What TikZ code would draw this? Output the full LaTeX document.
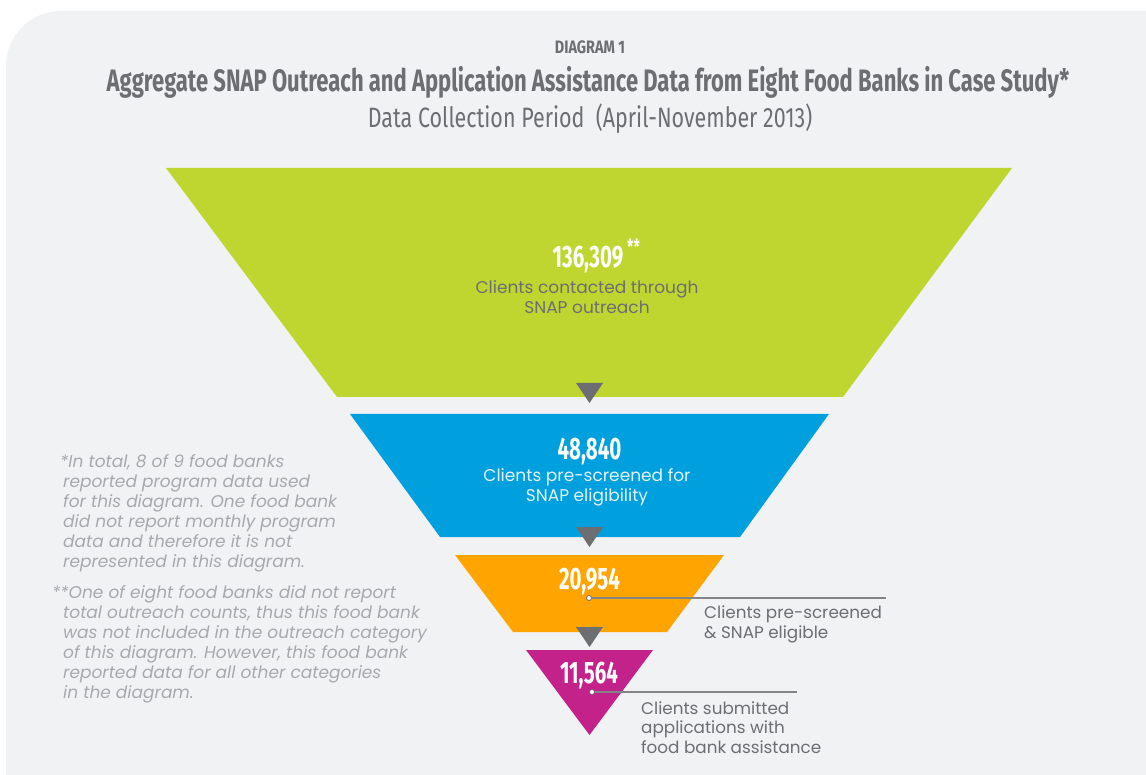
\documentclass[tikz,border=0pt]{standalone}
\usepackage{fontspec}
\setmainfont{Poppins}
\newfontfamily\condfont[FakeStretch=0.66]{Fira Sans}
\newfontfamily\titlefont[FakeStretch=0.71]{Fira Sans}
\newfontfamily\diagfont[FakeStretch=0.8]{Fira Sans}
\newfontfamily\subfont[FakeStretch=0.767]{Fira Sans}
\definecolor{bgc}{HTML}{F1F2F4}
\definecolor{txtgray}{HTML}{6D6E71}
\definecolor{notegray}{HTML}{A7A9AC}
\definecolor{fgreen}{HTML}{BED62F}
\definecolor{fblue}{HTML}{00A0DF}
\definecolor{forange}{HTML}{FFA400}
\definecolor{fmag}{HTML}{C2228A}
\definecolor{bluetxt}{HTML}{E3F3FB}
\tikzset{
  num/.style={anchor=base, text=white, font=\condfont\bfseries\fontsize{31}{31}\selectfont, inner sep=0pt},
  lbl/.style={anchor=base, text=txtgray, font=\fontsize{17}{20}\selectfont, inner sep=0pt, align=center},
  sidelbl/.style={anchor=base west, text=txtgray, font=\fontsize{16.8}{19.5}\selectfont, inner sep=0pt, align=left},
  note/.style={anchor=base west, text=notegray, font=\itshape\fontsize{17}{20}\selectfont, inner sep=0pt, align=left},
  arrowtri/.style={fill=txtgray},
  leader/.style={draw=txtgray!85, line width=1.3pt},
  dot/.style={circle, draw=txtgray, fill=white, line width=0.8pt, inner sep=0pt, minimum size=5pt}
}
\begin{document}
\begin{tikzpicture}[x=1pt,y=-1pt]
\useasboundingbox (0,0) rectangle (1146,775);
\fill[white] (0,0) rectangle (1146,775);
\fill[bgc] (6,775) [rounded corners=55pt] -- (6,11) [sharp corners] -- (1146,11) -- (1146,775) -- cycle;
% titles
\node[anchor=base, text=txtgray, font=\diagfont\bfseries\fontsize{18}{18}\selectfont, inner sep=0pt] (diag) at (590,54) {DIAGRAM 1};
\node[anchor=base, text=txtgray, font=\titlefont\bfseries\fontsize{31}{31}\selectfont, inner sep=0pt] (title) at (588,92) {Aggregate SNAP Outreach and Application Assistance Data from Eight Food Banks in Case Study*};
\node[anchor=base, text=txtgray, font=\subfont\fontsize{28}{28}\selectfont, inner sep=0pt] (sub) at (590,128) {Data Collection Period\ \ (April-November 2013)};
% funnel
\fill[fgreen] (166,168) -- (1012,168) -- (843,397) -- (337,397) -- cycle;
\fill[fblue] (350,414) -- (829,414) -- (740,537) -- (440,537) -- cycle;
\fill[forange] (455,555) -- (724,555) -- (667,632) -- (513,632) -- cycle;
\fill[fmag] (526,650) -- (653,650) -- (589.5,735) -- cycle;
% arrows
\fill[arrowtri] (576,383) -- (603,383) -- (589.5,403) -- cycle;
\fill[arrowtri] (576,527) -- (603,527) -- (589.5,547) -- cycle;
\fill[arrowtri] (576,627) -- (603,627) -- (589.5,647) -- cycle;
% green
\node[num] (n1) at (588,268) {136,309};
\node[anchor=base west, text=white, font=\condfont\bfseries\fontsize{21}{21}\selectfont, inner sep=0pt] (n1s) at (627,255) {**};
\node[lbl] (l1) at (587,314) {Clients contacted through\\SNAP outreach};
% blue
\node[num] (n2) at (589.5,459) {48,840};
\node[lbl, text=bluetxt] (l2) at (587,501) {Clients pre-screened for\\SNAP eligibility};
% orange
\node[num] (n3) at (589.5,589) {20,954};
\coordinate (e3) at (886,598);
\node[sidelbl] (l3) at (704,638) {Clients pre-screened\\\& SNAP eligible};
\node[dot] (d3) at (589,598) {};
\draw[leader] (d3) -- (e3);
% magenta
\node[num] (n4) at (589,683) {11,564};
\coordinate (e4) at (797,692);
\node[sidelbl] (l4) at (641,753) {Clients submitted\\applications with\\food bank assistance};
\node[dot] (d4) at (592,692) {};
\draw[leader] (d4) -- (e4);
% footnotes
\node[note] (f1) at (60,567) {*In total, 8 of 9 food banks\\\hspace*{3pt}reported program data used\\\hspace*{3pt}for this diagram. One food bank\\\hspace*{3pt}did not report monthly program\\\hspace*{3pt}data and therefore it is not\\\hspace*{3pt}represented in this diagram.};
\node[note] (f2) at (52,698) {**One of eight food banks did not report\\\hspace*{11pt}total outreach counts, thus this food bank\\\hspace*{11pt}was not included in the outreach category\\\hspace*{11pt}of this diagram. However, this food bank\\\hspace*{11pt}reported data for all other categories\\\hspace*{11pt}in the diagram.};
\end{tikzpicture}
\end{document}
